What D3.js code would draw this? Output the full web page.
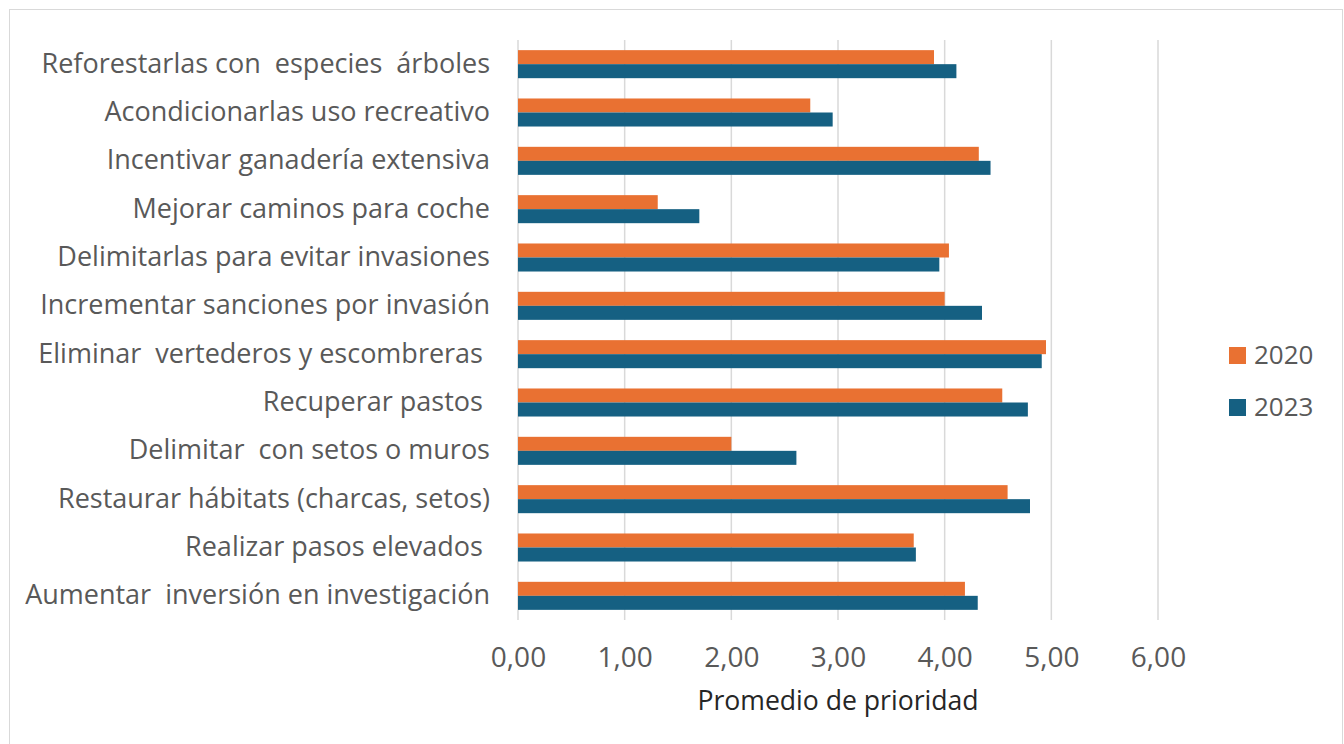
<!DOCTYPE html>
<html>
<head>
<meta charset="utf-8">
<script src="https://cdn.jsdelivr.net/npm/d3@7"></script>
<style>
  body { margin: 0; background: #fff; }
  text { font-family: "Open Sans", Roboto, sans-serif; fill: #595959; }
</style>
</head>
<body>
<div id="chart"></div>
<script>
// categories, top to bottom
const categories = [
  'Reforestarlas con  especies  árboles',
  'Acondicionarlas uso recreativo',
  'Incentivar ganadería extensiva',
  'Mejorar caminos para coche',
  'Delimitarlas para evitar invasiones',
  'Incrementar sanciones por invasión',
  'Eliminar  vertederos y escombreras ',
  'Recuperar pastos ',
  'Delimitar  con setos o muros',
  'Restaurar hábitats (charcas, setos)',
  'Realizar pasos elevados ',
  'Aumentar  inversión en investigación'
];
const years = ['2020', '2023'];
const values2020 = [3.90, 2.74, 4.32, 1.31, 4.04, 4.00, 4.95, 4.54, 2.00, 4.59, 3.71, 4.19];
const values2023 = [4.11, 2.95, 4.43, 1.70, 3.95, 4.35, 4.91, 4.78, 2.61, 4.80, 3.73, 4.31];
const xTicks = [0, 1, 2, 3, 4, 5, 6];
const colors = ['#E97132', '#156082'];

const width = 1344, height = 744;
const margin = { top: 40, right: 186, bottom: 124, left: 518 };

const svg = d3.select('#chart').append('svg')
  .attr('width', width)
  .attr('height', height);

// outer border
svg.append('rect')
  .attr('x', 9.5).attr('y', 9.5)
  .attr('width', 1333).attr('height', 760)
  .attr('fill', 'none')
  .attr('stroke', '#d9d9d9');

const x = d3.scaleLinear()
  .domain([0, 6])
  .range([margin.left, width - margin.right]);

const y = d3.scaleBand()
  .domain(categories)
  .range([margin.top, height - margin.bottom])
  .paddingInner(0.42)
  .paddingOuter(0.21);

const ySub = d3.scaleBand()
  .domain(years)
  .range([0, y.bandwidth()]);

// gridlines
svg.append('g')
  .selectAll('line')
  .data(xTicks)
  .enter().append('line')
  .attr('x1', d => x(d)).attr('x2', d => x(d))
  .attr('y1', margin.top).attr('y2', height - margin.bottom)
  .attr('stroke', '#d9d9d9')
  .attr('stroke-width', 1.5);

// bars
const rows = categories.map((c, i) => ({ cat: c, vals: [values2020[i], values2023[i]] }));
const groups = svg.append('g')
  .selectAll('g')
  .data(rows)
  .enter().append('g')
  .attr('transform', d => `translate(0,${y(d.cat)})`);

groups.selectAll('rect')
  .data(d => d.vals.map((v, j) => ({ year: years[j], v, j })))
  .enter().append('rect')
  .attr('x', x(0))
  .attr('y', d => ySub(d.year))
  .attr('width', d => x(d.v) - x(0))
  .attr('height', ySub.bandwidth())
  .attr('fill', d => colors[d.j]);

// category labels
const yAxis = d3.axisLeft(y).tickSize(0).tickPadding(28);
const yg = svg.append('g')
  .attr('transform', `translate(${margin.left},0)`)
  .call(yAxis);
yg.select('.domain').remove();
yg.selectAll('text')
  .attr('font-size', 27)
  .attr('font-family', null)
  .style('white-space', 'pre')
  .attr('fill', '#595959');

// x tick labels
const xAxis = d3.axisBottom(x)
  .tickValues(xTicks)
  .tickSize(0)
  .tickPadding(27)
  .tickFormat(d => d3.format('.2f')(d).replace('.', ','));
const xg = svg.append('g')
  .attr('transform', `translate(0,${height - margin.bottom})`)
  .call(xAxis);
xg.select('.domain').remove();
xg.selectAll('text')
  .attr('font-size', 28)
  .attr('font-family', null)
  .attr('fill', '#595959');

// axis title
svg.append('text')
  .attr('x', (x(0) + x(6)) / 2)
  .attr('y', 710)
  .attr('text-anchor', 'middle')
  .attr('font-size', 26.6)
  .style('fill', '#262626')
  .text('Promedio de prioridad');

// legend
const legend = svg.append('g')
  .selectAll('g')
  .data(years)
  .enter().append('g')
  .attr('transform', (d, i) => `translate(1229,${347 + i * 52})`);
legend.append('rect')
  .attr('width', 17).attr('height', 17)
  .attr('fill', (d, i) => colors[i]);
legend.append('text')
  .attr('x', 25).attr('y', 17)
  .attr('font-size', 26)
  .text(d => d);
</script>
</body>
</html>
